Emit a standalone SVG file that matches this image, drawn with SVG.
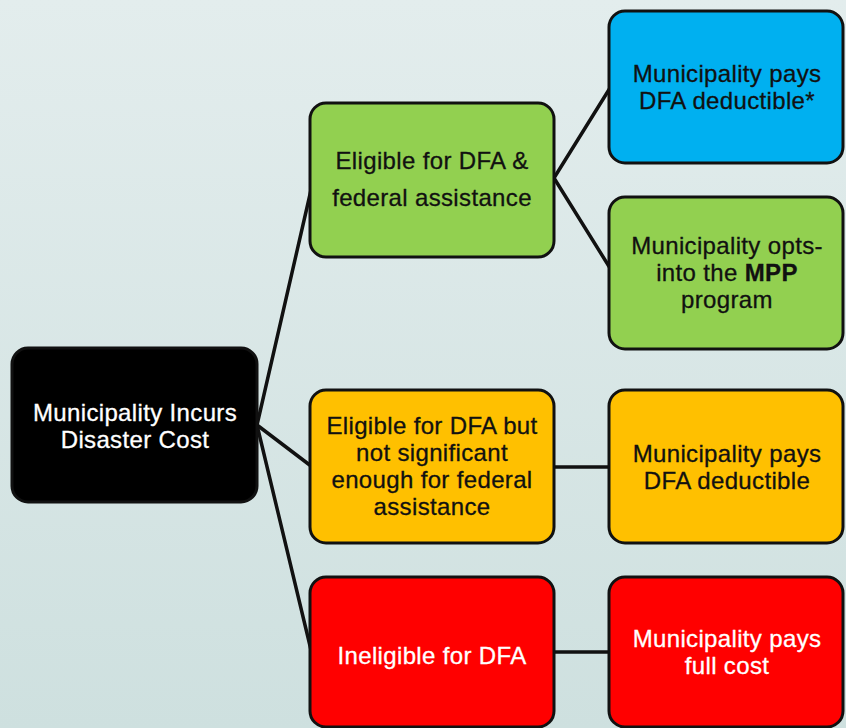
<svg xmlns="http://www.w3.org/2000/svg" width="846" height="728" viewBox="0 0 846 728">
<defs>
<linearGradient id="bg" x1="0" y1="0" x2="0" y2="1">
<stop offset="0" stop-color="#e3eded"/>
<stop offset="1" stop-color="#cee0df"/>
</linearGradient>
<style>
.box{stroke:#111;stroke-width:3}
.t{font-family:"Liberation Sans",Arial,sans-serif;font-size:24px;letter-spacing:0.35px;text-anchor:middle;fill:#111;stroke:#111;stroke-width:0.3}
.w{fill:#fff;stroke:#fff}
.con line{stroke:#111;stroke-width:3.5;stroke-linecap:round}
</style>
</defs>
<rect width="846" height="728" fill="url(#bg)"/>
<g class="con" id="connectors">
<line x1="257" y1="425" x2="311" y2="190"/>
<line x1="257" y1="425" x2="311" y2="466"/>
<line x1="257" y1="425" x2="311" y2="650"/>
<line x1="554" y1="178" x2="610" y2="88"/>
<line x1="554" y1="178" x2="610" y2="268"/>
<line x1="554" y1="467" x2="610" y2="467"/>
<line x1="554" y1="652" x2="610" y2="652"/>
</g>
<g id="root">
<rect class="box" x="12" y="348" width="245" height="154" rx="16" fill="#000"/>
<text class="t w" x="135"><tspan x="135" y="421">Municipality Incurs</tspan><tspan x="135" y="448">Disaster Cost</tspan></text>
</g>
<g id="eligible-federal">
<rect class="box" x="310" y="103" width="244" height="154" rx="16" fill="#92d050"/>
<text class="t" x="432"><tspan x="432" y="169">Eligible for DFA &amp;</tspan><tspan x="432" y="206">federal assistance</tspan></text>
</g>
<g id="pays-deductible-star">
<rect class="box" x="609" y="11" width="234" height="152" rx="16" fill="#00b0f0"/>
<text class="t" x="727"><tspan x="727" y="82">Municipality pays</tspan><tspan x="727" y="109">DFA deductible*</tspan></text>
</g>
<g id="opts-mpp">
<rect class="box" x="609" y="197" width="234" height="152" rx="16" fill="#92d050"/>
<text class="t" x="727"><tspan x="727" y="254">Municipality opts-</tspan><tspan x="727" y="281">into the <tspan font-weight="bold">MPP</tspan></tspan><tspan x="727" y="308">program</tspan></text>
</g>
<g id="eligible-not-significant">
<rect class="box" x="310" y="390" width="244" height="153" rx="16" fill="#ffc000"/>
<text class="t" x="432"><tspan x="432" y="434">Eligible for DFA but</tspan><tspan x="432" y="461">not significant</tspan><tspan x="432" y="488">enough for federal</tspan><tspan x="432" y="515">assistance</tspan></text>
</g>
<g id="pays-deductible">
<rect class="box" x="609" y="390" width="234" height="153" rx="16" fill="#ffc000"/>
<text class="t" x="727"><tspan x="727" y="462">Municipality pays</tspan><tspan x="727" y="489">DFA deductible</tspan></text>
</g>
<g id="ineligible">
<rect class="box" x="310" y="577" width="244" height="150" rx="16" fill="#ff0000"/>
<text class="t w" x="432" y="664">Ineligible for DFA</text>
</g>
<g id="pays-full">
<rect class="box" x="609" y="577" width="234" height="150" rx="16" fill="#ff0000"/>
<text class="t w" x="727"><tspan x="727" y="647">Municipality pays</tspan><tspan x="727" y="674">full cost</tspan></text>
</g>
</svg>
